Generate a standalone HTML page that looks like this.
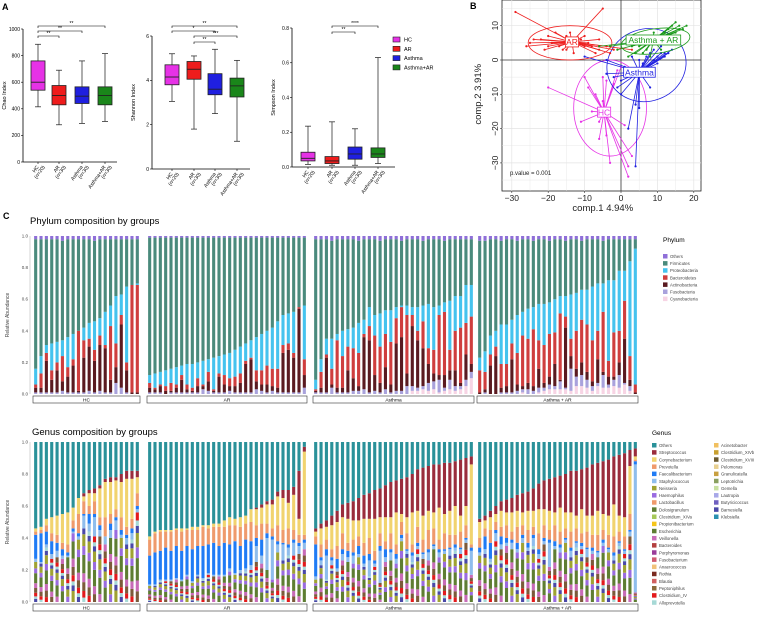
<!DOCTYPE html>
<html><head><meta charset="utf-8"><style>
html,body{margin:0;padding:0;background:#fff;}
svg{display:block;font-family:"Liberation Sans",Arial,sans-serif;}
</style></head><body>
<svg id="fig" width="765" height="633" viewBox="0 0 765 633" xmlns="http://www.w3.org/2000/svg">
<text x="2" y="10" font-size="9" font-weight="bold">A</text>
<text x="470" y="9" font-size="9" font-weight="bold">B</text>
<text x="3" y="219" font-size="9" font-weight="bold">C</text>
<text x="30" y="224" font-size="9.5">Phylum  composition by groups</text>
<text x="32" y="435" font-size="9.5">Genus  composition by groups</text>
<g id="gA"></g>
<g id="gB"></g>
<g id="gC"></g>
<g id="gD"></g>
</svg>
<script>
// ---------- Panel A data ----------
const groups = ["HC","AR","Asthma","Asthma+AR"];
const groupN = ["(n=20)","(n=30)","(n=30)","(n=30)"];
const groupColors = ["#e632e6","#ee1c1c","#1f1fe0","#1a861a"];
const chaoStats = [[415,540,600,760,885],[280,430,500,575,690],[290,440,495,565,760],[305,430,500,565,815]];
const shannonStats = [[3.05,3.8,4.15,4.7,5.2],[1.8,4.05,4.5,4.85,5.1],[2.5,3.35,3.6,4.3,5.4],[1.25,3.25,3.75,4.1,4.9]];
const simpsonStats = [[0.015,0.035,0.05,0.085,0.235],[0.01,0.02,0.035,0.06,0.26],[0.01,0.045,0.075,0.115,0.22],[0.02,0.055,0.075,0.11,0.63]];
const chaoTicks = [0,200,400,600,800,1000];
const shannonTicks = [0,2,4,6];
const simpsonTicks = [0,0.2,0.4,0.6,0.8];
const chaoSig = [[0,1,"**"],[0,2,"**"],[0,3,"**"]];
const shannonSig = [[1,2,"**"],[1,3,"***"],[0,2,"*"],[0,3,"**"]];
const simpsonSig = [[1,2,"**"],[1,3,"****"]];

// ---------- Panel B data ----------
const arX = [-29,-5,-24,-20,-18,-22,-25,-20,-16,-12,-10,-8,-4,-6,-2,-14,-15,-19,-11,-9,3,-6,-10,-26,-13,-17,-7,-3,-21,-15];
const arY = [14,15,6,7,8,6,5,4,3,5,4,4,4,3,3,8,3,5,6,5,3,6,7,4,2,4,2,2,3,7];
const aarX = [15,18,14,13,12,16,11,8,6,5,3,-3,-6,9,10,12,14,7,4,2,13,15,11,6,-1,9,17,8,3,16];
const aarY = [11,10,10,9,8,9,7,6,5,4,4,4,4,5,6,6,7,3,2,1,5,8,3,2,3,8,9,1,5,10];
const asX = [8,4,4,2,5,-10,-4,11,12,9,13,8,10,6,-2,0,-1,3,5,14,10,7,11,-4,0,12,1,9,6,3];
const asY = [-8,-13,-31,-20,-14,1,0,2,1,3,2,2,1,-1,-5,-6,-8,-3,0,3,-1,1,4,-4,-10,2,-2,0,-4,1];
const hcX = [-20,-11,2,3,-3,2,-6,-10,-9,-7,-5,-4,-2,-6,-8,-1,0,-4,1,-5];
const hcY = [-8,-18,-34,-28,-30,-31,-23,-5,-8,-10,-5,-6,-7,-18,-15,-3,-2,-22,-19,-12];
const pcXTicks = [-30,-20,-10,0,10,20];
const pcYTicks = [-30,-20,-10,0,10];

// ---------- Phylum data ----------
const phylumNames = ["Others","Firmicutes","Proteobacteria","Bacteroidetes","Actinobacteria","Fusobacteria","Cyanobacteria"];
const hcProt = [0.10,0.11,0.05,0.17,0.13,0.10,0.19,0.16,0.00,0.08,0.10,0.18,0.11,0.21,0.13,0.30,0.13,0.48,0.00,0.01];
const hcBact = [0.02,0.09,0.05,0.06,0.05,0.16,0.06,0.04,0.38,0.11,0.05,0.07,0.06,0.02,0.34,0.15,0.06,0.05,0.68,0.68];
const hcAct = [0.03,0.03,0.20,0.08,0.14,0.06,0.10,0.17,0.01,0.22,0.28,0.20,0.29,0.28,0.08,0.10,0.40,0.14,0.01,0.01];
const hcFuso = [0.01,0.01,0.01,0.01,0.01,0.02,0.01,0.01,0.01,0.01,0.02,0.01,0.02,0.01,0.01,0.07,0.04,0.01,0,0];
const hcCyano = [0,0,0,0,0,0,0,0,0,0,0,0,0,0,0,0,0,0,0,0];
const hcOth = [0.02,0.02,0.02,0.02,0.02,0.03,0.02,0.02,0.02,0.02,0.02,0.03,0.02,0.02,0.02,0.02,0.02,0.02,0.02,0.02];
const arProt = [0.05,0.09,0.08,0.10,0.09,0.11,0.06,0.13,0.15,0.10,0.15,0.08,0.20,0.11,0.13,0.16,0.17,0.17,0.11,0.11,0.21,0.23,0.22,0.26,0.30,0.19,0.19,0.26,0.00,0.34];
const arBact = [0.03,0.01,0.01,0.03,0.05,0.02,0.03,0.03,0.02,0.05,0.01,0.06,0.01,0.02,0.06,0.05,0.06,0.06,0.02,0.01,0.07,0.09,0.12,0.11,0.12,0.05,0.04,0.03,0.01,0.10];
const arAct = [0.03,0.02,0.04,0.02,0.01,0.03,0.08,0.02,0.01,0.04,0.02,0.06,0.01,0.10,0.05,0.03,0.04,0.06,0.18,0.21,0.05,0.04,0.05,0.03,0.03,0.25,0.27,0.22,0.53,0.08];
const arFuso = [0.01,0.01,0.01,0,0.01,0.01,0.01,0.01,0.01,0.01,0.03,0.02,0.01,0.01,0.01,0.02,0.01,0.01,0.01,0.01,0.03,0.02,0.01,0.02,0.01,0.01,0.01,0.01,0.01,0.04];
const arCyano = [0,0,0,0,0,0,0,0,0,0,0,0,0,0,0,0,0,0,0,0,0,0,0,0,0,0,0,0,0,0];
const arOth = [0.01,0.01,0.01,0.01,0.01,0.01,0.01,0.01,0.01,0.01,0.01,0.01,0.01,0.01,0.01,0.01,0.01,0.01,0.01,0.01,0.01,0.01,0.01,0.01,0.01,0.01,0.01,0.01,0.01,0.01];
const asProt = [0.06,0.08,0.10,0.19,0.04,0.16,0.11,0.13,0.19,0.09,0.12,0.13,0.21,0.15,0.20,0.07,0.01,0.06,0.05,0.15,0.10,0.28,0.27,0.06,0.06,0.31,0.22,0.20,0.24,0.20];
const asBact = [0.01,0.10,0.02,0.10,0.30,0.20,0.15,0.19,0.21,0.02,0.09,0.25,0.23,0.21,0.27,0.16,0.19,0.37,0.07,0.06,0.17,0.10,0.15,0.38,0.40,0.13,0.25,0.35,0.20,0.30];
const asAct = [0.01,0.03,0.22,0.02,0.03,0.03,0.14,0.08,0.03,0.33,0.33,0.10,0.06,0.14,0.05,0.30,0.34,0.08,0.38,0.30,0.24,0.12,0.05,0.03,0.08,0.06,0.10,0.02,0.16,0.05];
const asFuso = [0.01,0.01,0.01,0.04,0.01,0.01,0.01,0.02,0.02,0.03,0.01,0.02,0.01,0.03,0.01,0.02,0.02,0.05,0.03,0.02,0.02,0.05,0.05,0.08,0.02,0.06,0.03,0.02,0.04,0.04];
const asCyano = [0,0,0,0,0,0,0,0,0,0,0,0,0,0,0,0,0,0,0.02,0.02,0.03,0.02,0.03,0.01,0.02,0.03,0.02,0.03,0.05,0.10];
const asOth = [0.02,0.02,0.02,0.03,0.02,0.02,0.02,0.02,0.03,0.02,0.02,0.02,0.03,0.02,0.02,0.02,0.03,0.02,0.02,0.02,0.03,0.02,0.02,0.02,0.03,0.02,0.02,0.02,0.02,0.02];
const aarProt = [0.08,0.13,0.12,0.10,0.25,0.25,0.15,0.24,0.15,0.19,0.14,0.23,0.26,0.20,0.21,0.11,0.13,0.28,0.24,0.19,0.22,0.34,0.30,0.18,0.51,0.33,0.38,0.19,0.60,0.86];
const aarBact = [0.14,0.11,0.07,0.06,0.15,0.14,0.10,0.20,0.32,0.28,0.36,0.18,0.24,0.27,0.20,0.42,0.07,0.11,0.24,0.27,0.30,0.26,0.18,0.38,0.10,0.28,0.20,0.24,0.15,0.05];
const aarAct = [0.01,0.02,0.18,0.24,0.03,0.04,0.21,0.04,0.02,0.04,0.03,0.12,0.03,0.05,0.14,0.01,0.38,0.08,0.05,0.08,0.05,0.03,0.15,0.02,0.05,0.02,0.08,0.28,0.04,0.01];
const aarFuso = [0,0.01,0,0,0.01,0.01,0.01,0.02,0.02,0.03,0.02,0.03,0.02,0.03,0.02,0.05,0.01,0.14,0.06,0.07,0.05,0.03,0.02,0.08,0.02,0.04,0.08,0.01,0.03,0];
const aarCyano = [0,0,0,0,0,0,0,0,0.01,0,0,0.01,0.02,0.03,0.03,0.03,0.03,0.02,0.05,0.05,0.04,0.02,0.05,0.04,0.04,0.05,0.04,0.06,0.02,0];
const aarOth = [0.03,0.03,0.02,0.02,0.03,0.02,0.02,0.03,0.02,0.02,0.03,0.02,0.02,0.03,0.02,0.02,0.03,0.02,0.02,0.03,0.02,0.02,0.02,0.03,0.02,0.02,0.02,0.02,0.02,0.02];

// ---------- Genus data ----------
const hcGOth = [0.54,0.53,0.48,0.47,0.46,0.45,0.44,0.41,0.35,0.32,0.30,0.29,0.27,0.23,0.22,0.22,0.20,0.18,0.18,0.18];
const hcStrep = [0,0,0,0,0,0,0,0,0,0.02,0.02,0.03,0.02,0.02,0.03,0.02,0.05,0.05,0.05,0.04];
const hcCory = [0.02,0.02,0.04,0.10,0.12,0.18,0.20,0.08,0.10,0.03,0.08,0.05,0.18,0.22,0.20,0.18,0.22,0.30,0.25,0.10];
const hcPrev = [0.02,0.02,0.04,0.05,0.05,0.04,0.05,0.05,0.12,0.08,0.05,0.08,0.05,0.12,0.06,0.05,0.08,0.05,0.06,0.08];
const hcFaec = [0.15,0.18,0.08,0.08,0.05,0.04,0.02,0.02,0.02,0.01,0.06,0.02,0.03,0.00,0.04,0.02,0.03,0.02,0.03,0.02];
const hcStaph = [0.02,0.01,0.02,0.03,0.04,0.02,0.01,0.01,0.02,0.08,0.05,0.12,0.04,0.05,0.05,0.06,0.02,0.04,0.04,0.02];
const arGOth = [0.59,0.56,0.55,0.55,0.55,0.54,0.54,0.54,0.53,0.53,0.52,0.52,0.51,0.51,0.49,0.47,0.48,0.47,0.46,0.42,0.41,0.39,0.37,0.36,0.31,0.30,0.30,0.28,0.18,0.03];
const arStrep = [0,0,0,0,0,0,0,0,0,0,0,0,0,0,0,0,0,0,0,0,0.01,0.02,0.02,0.03,0.03,0.05,0.08,0.05,0.30,0.03];
const arCory = [0.02,0.01,0.01,0.01,0.01,0.01,0.02,0.01,0.02,0.02,0.01,0.02,0.02,0.02,0.04,0.05,0.04,0.06,0.05,0.08,0.10,0.10,0.12,0.15,0.18,0.20,0.16,0.22,0.10,0.52];
const arPrev = [0.10,0.12,0.12,0.10,0.12,0.10,0.12,0.10,0.12,0.10,0.12,0.10,0.10,0.12,0.10,0.12,0.10,0.12,0.10,0.12,0.08,0.10,0.06,0.05,0.10,0.08,0.10,0.06,0.05,0.03];
const arFaec = [0.18,0.20,0.18,0.20,0.18,0.20,0.18,0.18,0.20,0.18,0.20,0.18,0.20,0.18,0.20,0.15,0.20,0.15,0.18,0.15,0.05,0.10,0.03,0.02,0.02,0.01,0.02,0.02,0.02,0.02];
const arStaph = [0.01,0.01,0.01,0.01,0.01,0.01,0.01,0.01,0.01,0.01,0.01,0.01,0.01,0.01,0.01,0.02,0.01,0.02,0.02,0.03,0.10,0.05,0.20,0.25,0.05,0.10,0.05,0.08,0.05,0.04];
const asGOth = [0.54,0.51,0.49,0.46,0.43,0.39,0.38,0.37,0.35,0.33,0.32,0.30,0.29,0.27,0.25,0.24,0.23,0.22,0.20,0.17,0.16,0.15,0.14,0.14,0.13,0.13,0.12,0.11,0.10,0.09];
const asStrep = [0.02,0.03,0.04,0.06,0.07,0.08,0.10,0.12,0.14,0.15,0.16,0.18,0.18,0.20,0.22,0.20,0.22,0.25,0.24,0.26,0.30,0.28,0.30,0.27,0.32,0.30,0.28,0.35,0.30,0.05];
const asCory = [0.03,0.10,0.08,0.15,0.15,0.10,0.15,0.12,0.10,0.15,0.12,0.20,0.10,0.15,0.10,0.20,0.05,0.10,0.20,0.10,0.15,0.12,0.10,0.20,0.12,0.15,0.18,0.10,0.12,0.50];
const asPrev = [0.05,0.08,0.06,0.05,0.08,0.10,0.05,0.08,0.06,0.08,0.10,0.06,0.08,0.05,0.10,0.06,0.08,0.10,0.05,0.10,0.08,0.12,0.10,0.06,0.10,0.08,0.06,0.10,0.08,0.02];
const asFaec = [0.20,0.02,0.04,0.02,0.06,0.03,0.04,0.02,0.05,0.05,0.04,0.02,0.03,0.05,0.02,0.03,0.02,0.01,0.02,0.02,0.01,0.02,0.01,0.02,0.01,0.01,0.02,0.01,0.01,0.02];
const asStaph = [0.02,0.03,0.15,0.03,0.02,0.04,0.03,0.05,0.02,0.02,0.10,0.02,0.20,0.03,0.05,0.03,0.02,0.02,0.04,0.02,0.03,0.05,0.02,0.03,0.02,0.04,0.02,0.03,0.02,0.15];
const aarGOth = [0.48,0.46,0.43,0.40,0.37,0.36,0.35,0.33,0.32,0.31,0.29,0.26,0.24,0.23,0.22,0.21,0.20,0.18,0.18,0.17,0.16,0.14,0.13,0.12,0.11,0.09,0.08,0.07,0.05,0.04];
const aarStrep = [0.02,0.03,0.04,0.05,0.06,0.08,0.09,0.10,0.12,0.12,0.14,0.16,0.18,0.20,0.22,0.20,0.24,0.26,0.28,0.25,0.30,0.32,0.30,0.33,0.35,0.30,0.38,0.40,0.10,0.05];
const aarCory = [0.10,0.05,0.08,0.05,0.10,0.08,0.12,0.10,0.08,0.12,0.10,0.15,0.10,0.12,0.08,0.15,0.10,0.12,0.08,0.15,0.10,0.12,0.15,0.10,0.12,0.20,0.10,0.12,0.30,0.02];
const aarPrev = [0.06,0.05,0.08,0.05,0.06,0.08,0.05,0.10,0.06,0.08,0.05,0.10,0.08,0.06,0.10,0.08,0.06,0.10,0.08,0.06,0.10,0.08,0.10,0.06,0.08,0.10,0.06,0.08,0.10,0.01];
const aarFaec = [0.03,0.08,0.10,0.02,0.05,0.03,0.02,0.04,0.02,0.03,0.02,0.03,0.02,0.02,0.03,0.02,0.01,0.02,0.01,0.02,0.01,0.02,0.01,0.02,0.01,0.02,0.01,0.01,0.01,0.02];
const aarStaph = [0.02,0.03,0.02,0.05,0.03,0.02,0.04,0.02,0.03,0.02,0.05,0.03,0.02,0.15,0.02,0.03,0.02,0.04,0.03,0.02,0.05,0.02,0.03,0.02,0.02,0.03,0.02,0.02,0.03,0.80];
const genusNames1 = ["Others","Streptococcus","Corynebacterium","Prevotella","Faecalibacterium","Staphylococcus","Neisseria","Haemophilus","Lactobacillus","Dolosigranulum","Clostridium_XIVa","Propionibacterium","Escherichia","Veillonella","Bacteroides","Porphyromonas","Fusobacterium","Anaerococcus","Rothia","Blautia","Peptoniphilus","Clostridium_IV","Alloprevotella"];
const genusNames2 = ["Acinetobacter","Clostridium_XIVb","Clostridium_XVIII","Pelomonas","Granulicatella","Leptotrichia","Gemella","Lautropia","Butyricicoccus","Barnesiella","Klebsiella"];
const abTicks = [0,0.2,0.4,0.6,0.8,1.0];

const NS="http://www.w3.org/2000/svg";
function mk(parent,tag,attrs,txt){const e=document.createElementNS(NS,tag);for(const k in attrs)e.setAttribute(k,attrs[k]);if(txt!==undefined)e.textContent=txt;parent.appendChild(e);return e;}

// ---------- Panel A ----------
const gA=document.getElementById('gA');
function boxPanel(cfg){
  const g=mk(gA,'g',{});
  
  
  const sy=v=>cfg.y0-(v-cfg.vmin)/(cfg.vmax-cfg.vmin)*(cfg.y0-cfg.y1);
  mk(g,'line',{x1:cfg.ax,y1:sy(cfg.vmax),x2:cfg.ax,y2:cfg.y0,stroke:'#000','stroke-width':0.8});
  mk(g,'line',{x1:cfg.ax,y1:cfg.y0,x2:cfg.axEnd,y2:cfg.y0,stroke:'#000','stroke-width':0.8});
  cfg.ticks.forEach(t=>{
    mk(g,'line',{x1:cfg.ax-2,y1:sy(t),x2:cfg.ax,y2:sy(t),stroke:'#000','stroke-width':0.6});
    const tl=mk(g,'text',{x:cfg.ax-3,y:sy(t)+1.8,'font-size':5,'text-anchor':'end'},cfg.fmt(t));
    
    
  });
  const yt=mk(g,'text',{x:0,y:0,'font-size':5.5,'text-anchor':'middle',transform:`translate(${cfg.ax-17},${(cfg.y0+sy(cfg.vmax))/2}) rotate(-90)`},cfg.title);
  
  
  cfg.stats.forEach((s,i)=>{
    const cx=cfg.cx[i],w=14;
    const b=mk(g,'g',{});
    
    
    mk(b,'line',{x1:cx,y1:sy(s[0]),x2:cx,y2:sy(s[4]),stroke:'#333','stroke-width':0.8});
    mk(b,'line',{x1:cx-3,y1:sy(s[0]),x2:cx+3,y2:sy(s[0]),stroke:'#333','stroke-width':0.8});
    mk(b,'line',{x1:cx-3,y1:sy(s[4]),x2:cx+3,y2:sy(s[4]),stroke:'#333','stroke-width':0.8});
    mk(b,'rect',{x:cx-w/2,y:sy(s[3]),width:w,height:sy(s[1])-sy(s[3]),fill:groupColors[i],stroke:'#222','stroke-width':0.8});
    mk(b,'line',{x1:cx-w/2,y1:sy(s[2]),x2:cx+w/2,y2:sy(s[2]),stroke:'#222','stroke-width':0.9});
    mk(g,'line',{x1:cx,y1:cfg.y0,x2:cx,y2:cfg.y0+2,stroke:'#000','stroke-width':0.6});
    const l1=mk(g,'text',{x:0,y:0,'font-size':5,'text-anchor':'end',transform:`translate(${cx+1},${cfg.y0+5}) rotate(-55)`},groups[i]);
    
    
    const l2=mk(g,'text',{x:0,y:0,'font-size':5,'text-anchor':'end',transform:`translate(${cx+7},${cfg.y0+5}) rotate(-55)`},groupN[i]);
    
    
  });
  cfg.sig.forEach((s,k)=>{
    const y=cfg.sigY[k];
    const x1=cfg.cx[s[0]],x2=cfg.cx[s[1]];
    const sg=mk(g,'g',{});
    
    
    mk(sg,'path',{d:`M${x1},${y+2}V${y}H${x2}V${y+2}`,fill:'none',stroke:'#000','stroke-width':0.6});
    mk(sg,'text',{x:(x1+x2)/2,y:y-1,'font-size':5,'text-anchor':'middle'},s[2]);
  });
}
boxPanel({name:'chao-boxplot',ax:23,axEnd:117,y0:162,y1:29,vmin:0,vmax:1000,ticks:chaoTicks,fmt:t=>String(t),title:'Chao Index',stats:chaoStats,cx:[38,59,82,105],sig:chaoSig,sigY:[36,31,26]});
boxPanel({name:'shannon-boxplot',ax:152,axEnd:250,y0:169,y1:36,vmin:0,vmax:6,ticks:shannonTicks,fmt:t=>String(t),title:'Shannon Index',stats:shannonStats,cx:[172,194,215,237],sig:shannonSig,sigY:[42,36,31,26]});
boxPanel({name:'simpson-boxplot',ax:292,axEnd:395,y0:167,y1:28,vmin:0,vmax:0.8,ticks:simpsonTicks,fmt:t=>t.toFixed(1),title:'Simpson Index',stats:simpsonStats,cx:[308,332,355,378],sig:simpsonSig,sigY:[32,26]});
groups.forEach((gname,i)=>{
  const le=mk(gA,'g',{});
  
  
  mk(le,'rect',{x:393,y:37+i*9.3,width:7,height:5,fill:groupColors[i],stroke:'#222','stroke-width':0.6});
  mk(le,'text',{x:404,y:41.5+i*9.3,'font-size':5.5},gname);
});

// ---------- Panel B ----------
const gB=document.getElementById('gB');
const bx0=502,bx1=701,by0=0,by1=191;
const px=v=>621+v*3.64, py=v=>60-v*3.43;
mk(gB,'rect',{x:bx0,y:by0,width:bx1-bx0,height:by1-by0,fill:'#fff',stroke:'#222','stroke-width':0.8});
[-30,-25,-20,-15,-10,-5,5,10,15,20].forEach(v=>mk(gB,'line',{x1:px(v),y1:by0,x2:px(v),y2:by1,stroke:'#e3e3e3','stroke-width':v%10==0?0.7:0.4}));
[-35,-30,-25,-20,-15,-10,-5,5,10,15].forEach(v=>mk(gB,'line',{x1:bx0,y1:py(v),x2:bx1,y2:py(v),stroke:'#e3e3e3','stroke-width':v%10==0?0.7:0.4}));
mk(gB,'line',{x1:px(0),y1:by0,x2:px(0),y2:by1,stroke:'#333','stroke-width':0.8});
mk(gB,'line',{x1:bx0,y1:py(0),x2:bx1,y2:py(0),stroke:'#333','stroke-width':0.8});
pcXTicks.forEach(v=>{
  mk(gB,'line',{x1:px(v),y1:by1,x2:px(v),y2:by1+2,stroke:'#333','stroke-width':0.6});
  const t=mk(gB,'text',{x:px(v),y:by1+10,'font-size':8.5,'text-anchor':'middle',fill:'#222'},v<0?'\u2212'+(-v):String(v));
  
  
});
pcYTicks.forEach(v=>{
  mk(gB,'line',{x1:bx0-2,y1:py(v),x2:bx0,y2:py(v),stroke:'#333','stroke-width':0.6});
  const t=mk(gB,'text',{x:0,y:0,'font-size':8.5,'text-anchor':'middle',fill:'#222',transform:`translate(${bx0-4},${py(v)}) rotate(-90)`},v<0?'\u2212'+(-v):String(v));
  
  
});
const xtB=mk(gB,'text',{x:px(-5),y:211,'font-size':9.5,'text-anchor':'middle',fill:'#222'},'comp.1 4.94%');


const ytB=mk(gB,'text',{x:0,y:0,'font-size':9.5,'text-anchor':'middle',fill:'#222',transform:`translate(481,${py(-10)}) rotate(-90)`},'comp.2 3.91%');


const pv=mk(gB,'text',{x:px(-30.5),y:py(-33)+2,'font-size':6,fill:'#222'},'p.value = 0.001');


function cluster(name,xs,ys,color,ell,label){
  const g=mk(gB,'g',{});
  
  
  const cx=xs.reduce((a,b)=>a+b,0)/xs.length, cy=ys.reduce((a,b)=>a+b,0)/ys.length;
  xs.forEach((x,i)=>{
    mk(g,'line',{x1:px(cx),y1:py(cy),x2:px(x),y2:py(ys[i]),stroke:color,'stroke-width':0.8});
    mk(g,'circle',{cx:px(x),cy:py(ys[i]),r:1.1,fill:color});
  });
  mk(g,'ellipse',{cx:px(ell[0]),cy:py(ell[1]),rx:ell[2]*3.64,ry:ell[3]*3.43,fill:'none',stroke:color,'stroke-width':0.8,transform:`rotate(${ell[4]} ${px(ell[0])} ${py(ell[1])})`});
  const tw=label.length*4.6+4;
  mk(g,'rect',{x:px(cx)-tw/2,y:py(cy)-5,width:tw,height:10,fill:'#fff',stroke:color,'stroke-width':0.8});
  mk(g,'text',{x:px(cx),y:py(cy)+3.2,'font-size':8.5,'text-anchor':'middle',fill:color},label);
}
cluster('hc',hcX,hcY,'#e632e6',[-3,-14,10,14,0],'HC');
cluster('asthma',asX,asY,'#1f1fe0',[7,-1.5,11,10.5,-20],'Asthma');
cluster('ar',arX,arY,'#ee2020',[-14,5,11.5,5,0],'AR');
cluster('asthma-ar',aarX,aarY,'#1a9a1a',[9.5,5.5,9.5,3.6,-8],'Asthma + AR');

// ---------- Stacked bars ----------
const gx=[[33,140],[147,307],[313,474],[477,638]];
function stripAndAxis(g,y1,y0,stripY){
  const sy=v=>y0-v*(y0-y1);
  abTicks.forEach(t=>{
    const tl=mk(g,'text',{x:28,y:sy(t)+1.5,'font-size':4.5,'text-anchor':'end',fill:'#444'},t.toFixed(1));
    
    
  });
  mk(g,'line',{x1:30,y1:sy(0),x2:30,y2:sy(1),stroke:'#aaa','stroke-width':0.5});
  const yt=mk(g,'text',{x:0,y:0,'font-size':5,'text-anchor':'middle',fill:'#444',transform:`translate(9,${(y0+y1)/2}) rotate(-90)`},'Relative Abundance');
  
  
  ["HC","AR","Asthma","Asthma + AR"].forEach((n,i)=>{
    const s=mk(g,'g',{});
    
    
    mk(s,'rect',{x:gx[i][0],y:stripY,width:gx[i][1]-gx[i][0],height:7,fill:'#fff',stroke:'#333','stroke-width':0.6});
    mk(s,'text',{x:(gx[i][0]+gx[i][1])/2,y:stripY+5.5,'font-size':4.8,'text-anchor':'middle'},n);
  });
  return sy;
}
const phyColors=["#8f6fd8","#4a8a7c","#45c3ee","#cf3e3e","#5a1a20","#a9a2dc","#f7d4e4"];
const gC=document.getElementById('gC');
const syP=stripAndAxis(gC,236,394,396);
const phyGroups=[[hcOth,hcProt,hcBact,hcAct,hcFuso,hcCyano],[arOth,arProt,arBact,arAct,arFuso,arCyano],[asOth,asProt,asBact,asAct,asFuso,asCyano],[aarOth,aarProt,aarBact,aarAct,aarFuso,aarCyano]];
phyGroups.forEach((arrs,gi)=>{
  const n=arrs[0].length, pitch=(gx[gi][1]-gx[gi][0])/n, bw=pitch*0.58;
  for(let i=0;i<n;i++){
    const oth=arrs[0][i],prot=arrs[1][i],bact=arrs[2][i],act=arrs[3][i],fuso=arrs[4][i],cy=arrs[5][i];
    const firm=Math.max(0,1-oth-prot-bact-act-fuso-cy);
    const vals=[cy,fuso,act,bact,prot,firm,oth];
    const cols=[phyColors[6],phyColors[5],phyColors[4],phyColors[3],phyColors[2],phyColors[1],phyColors[0]];
    const bx=gx[gi][0]+pitch*i+(pitch-bw)/2;
    const bar=mk(gC,'g',{});
    
    
    let acc=0;
    vals.forEach((v,k)=>{
      if(v<=0)return;
      mk(bar,'rect',{x:bx.toFixed(2),y:syP(acc+v).toFixed(2),width:bw.toFixed(2),height:(syP(acc)-syP(acc+v)).toFixed(2),fill:cols[k]});
      acc+=v;
    });
  }
});
const lt=mk(gC,'text',{x:663,y:242,'font-size':6.5},'Phylum');


phylumNames.forEach((nm,i)=>{
  const le=mk(gC,'g',{});
  
  
  mk(le,'rect',{x:663,y:254+i*7.1,width:4.5,height:4.5,fill:phyColors[i]});
  mk(le,'text',{x:670,y:258+i*7.1,'font-size':4.3,fill:'#444'},nm);
});

// Genus
const gD=document.getElementById('gD');
const syG=stripAndAxis(gD,442,602,604);
const gTop=["#2a9199","#9a2c3c","#f1d36e","#ef9a6c","#1f7bf5","#8fbdec"];
const resCols=["#4a48a8","#a6d9d6","#e31a1c","#7c5a3a","#c86bb8","#5e7d32","#9a6be0","#9fa232"];
const resW=[0.08,0.06,0.09,0.12,0.12,0.25,0.12,0.16];
const genGroups=[[hcGOth,hcStrep,hcCory,hcPrev,hcFaec,hcStaph],[arGOth,arStrep,arCory,arPrev,arFaec,arStaph],[asGOth,asStrep,asCory,asPrev,asFaec,asStaph],[aarGOth,aarStrep,aarCory,aarPrev,aarFaec,aarStaph]];
genGroups.forEach((arrs,gi)=>{
  const n=arrs[0].length, pitch=(gx[gi][1]-gx[gi][0])/n, bw=pitch*0.58;
  for(let i=0;i<n;i++){
    const oth=arrs[0][i];
    let named=[arrs[1][i],arrs[2][i],arrs[3][i],arrs[4][i],arrs[5][i]];
    const avail=1-oth, s=named.reduce((a,b)=>a+b,0);
    if(s>avail){named=named.map(v=>v*avail/s);}
    const res=Math.max(0,avail-named.reduce((a,b)=>a+b,0));
    const bx=gx[gi][0]+pitch*i+(pitch-bw)/2;
    const bar=mk(gD,'g',{});
    
    
    let acc=0;
    const rot=i%resCols.length;
    const segs=[];
    for(let k=0;k<resCols.length;k++){const kk=(k+rot)%resCols.length;segs.push([res*resW[kk],resCols[kk]]);}
    segs.push([named[4],gTop[5]],[named[3],gTop[4]],[named[2],gTop[3]],[named[1],gTop[2]],[named[0],gTop[1]],[oth,gTop[0]]);
    segs.forEach(([v,c])=>{
      if(v<=0)return;
      mk(bar,'rect',{x:bx.toFixed(2),y:syG(acc+v).toFixed(2),width:bw.toFixed(2),height:(syG(acc)-syG(acc+v)).toFixed(2),fill:c});
      acc+=v;
    });
  }
});
const gt=mk(gD,'text',{x:652,y:435,'font-size':6.5},'Genus');


const gc1=["#2a9199","#9a2c3c","#f1d36e","#ef9a6c","#1f7bf5","#8fbdec","#9fa232","#9a6be0","#ef9a6c","#5e7d32","#a6c85a","#f5c518","#5e7d32","#c86bb8","#b34040","#9a3c9a","#d05a70","#f1c27a","#7a2a20","#d06060","#8a6a3a","#e31a1c","#a6d9d6"];
const gc2=["#f1c060","#c8a030","#6a5a30","#e8d090","#c8a040","#8aa060","#c8e0a0","#a8a8e8","#7060c0","#4a48a8","#2a90b0"];
genusNames1.forEach((nm,i)=>{
  const le=mk(gD,'g',{});
  
  
  mk(le,'rect',{x:652,y:443+i*7.15,width:4.5,height:4.5,fill:gc1[i]});
  mk(le,'text',{x:659,y:447+i*7.15,'font-size':4.3,fill:'#444'},nm);
});
genusNames2.forEach((nm,i)=>{
  const le=mk(gD,'g',{});
  
  
  mk(le,'rect',{x:714,y:443+i*7.15,width:4.5,height:4.5,fill:gc2[i]});
  mk(le,'text',{x:721,y:447+i*7.15,'font-size':4.3,fill:'#444'},nm);
});
</script>
</body></html>
